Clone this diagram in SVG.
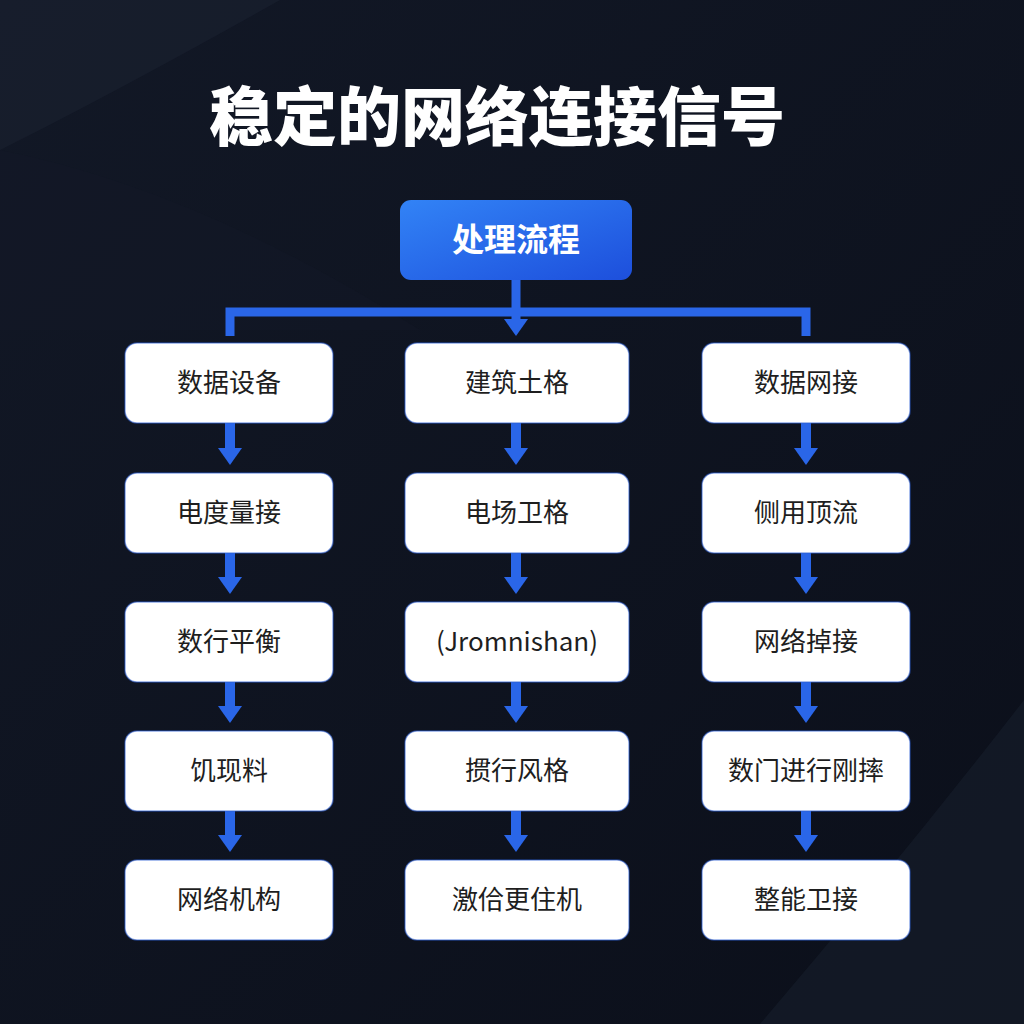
<svg xmlns="http://www.w3.org/2000/svg" width="1024" height="1024" viewBox="0 0 1024 1024">
<defs>
<linearGradient id="bg" x1="0" y1="0" x2="1" y2="1">
<stop offset="0" stop-color="#121826"/>
<stop offset="1" stop-color="#0b0f1a"/>
</linearGradient>
<linearGradient id="top" x1="0" y1="0" x2="1" y2="1">
<stop offset="0" stop-color="#3283f6"/>
<stop offset="1" stop-color="#1d4fdc"/>
</linearGradient>
<path id="ah" d="M-12,0 L12,0 L0,17 Z" fill="#2a66e8"/>
<style>
.box{fill:#ffffff;stroke:#2d5fd4;stroke-opacity:0.55;stroke-width:1.5}
.lbl{font-family:"Noto Sans CJK SC","Noto Sans",sans-serif;font-size:26px;fill:#1e1e1e;text-anchor:middle}
.conn{stroke:#2a66e8;stroke-width:9;fill:none}
.arr{stroke:#2a66e8;stroke-width:10;fill:none}
</style>
</defs>
<rect width="1024" height="1024" fill="url(#bg)"/>
<path d="M0,0 L280,0 Q120,90 0,150 Z" fill="#1a2131" opacity="0.6"/>
<path d="M0,150 Q200,190 420,330 L0,330 Z" fill="#141a28" opacity="0.4"/>
<path d="M760,1024 Q900,860 1024,700 L1024,1024 Z" fill="#161c2a" opacity="0.7"/>
<text x="497" y="140" font-family="'Noto Sans CJK SC','Noto Sans',sans-serif" font-size="64" font-weight="900" fill="#ffffff" text-anchor="middle">稳定的网络连接信号</text>

<g id="connectors">
<path class="conn" d="M516,280 V321 M225.5,312 H810.5 M230,307.5 V336 M806,307.5 V336"/>
<use href="#ah" x="516" y="319"/>
<g class="arr">
<path d="M230,423 V449 M230,553 V578 M230,682 V707 M230,811 V836"/>
<path d="M516,423 V449 M516,553 V578 M516,682 V707 M516,811 V836"/>
<path d="M806,423 V449 M806,553 V578 M806,682 V707 M806,811 V836"/>
</g>
<use href="#ah" x="230" y="448"/><use href="#ah" x="230" y="577"/><use href="#ah" x="230" y="706"/><use href="#ah" x="230" y="835"/>
<use href="#ah" x="516" y="448"/><use href="#ah" x="516" y="577"/><use href="#ah" x="516" y="706"/><use href="#ah" x="516" y="835"/>
<use href="#ah" x="806" y="448"/><use href="#ah" x="806" y="577"/><use href="#ah" x="806" y="706"/><use href="#ah" x="806" y="835"/>
</g>

<g id="node-top">
<rect x="400" y="200" width="232" height="80" rx="11" fill="url(#top)"/>
<text x="516" y="251" font-family="'Noto Sans CJK SC','Noto Sans',sans-serif" font-size="32" font-weight="700" fill="#ffffff" text-anchor="middle">处理流程</text>
</g>

<g id="node-a1"><rect class="box" x="125" y="343" width="208" height="80" rx="12"/><text class="lbl" x="229" y="392">数据设备</text></g>
<g id="node-a2"><rect class="box" x="125" y="473" width="208" height="80" rx="12"/><text class="lbl" x="229" y="522">电度量接</text></g>
<g id="node-a3"><rect class="box" x="125" y="602" width="208" height="80" rx="12"/><text class="lbl" x="229" y="651">数行平衡</text></g>
<g id="node-a4"><rect class="box" x="125" y="731" width="208" height="80" rx="12"/><text class="lbl" x="229" y="780">饥现料</text></g>
<g id="node-a5"><rect class="box" x="125" y="860" width="208" height="80" rx="12"/><text class="lbl" x="229" y="909">网络机构</text></g>

<g id="node-b1"><rect class="box" x="405" y="343" width="224" height="80" rx="12"/><text class="lbl" x="517" y="392">建筑土格</text></g>
<g id="node-b2"><rect class="box" x="405" y="473" width="224" height="80" rx="12"/><text class="lbl" x="517" y="522">电场卫格</text></g>
<g id="node-b3"><rect class="box" x="405" y="602" width="224" height="80" rx="12"/><text class="lbl" x="517" y="651">(Jromnishan)</text></g>
<g id="node-b4"><rect class="box" x="405" y="731" width="224" height="80" rx="12"/><text class="lbl" x="517" y="780">掼行风格</text></g>
<g id="node-b5"><rect class="box" x="405" y="860" width="224" height="80" rx="12"/><text class="lbl" x="517" y="909">激佮更住机</text></g>

<g id="node-c1"><rect class="box" x="702" y="343" width="208" height="80" rx="12"/><text class="lbl" x="806" y="392">数据网接</text></g>
<g id="node-c2"><rect class="box" x="702" y="473" width="208" height="80" rx="12"/><text class="lbl" x="806" y="522">侧用顶流</text></g>
<g id="node-c3"><rect class="box" x="702" y="602" width="208" height="80" rx="12"/><text class="lbl" x="806" y="651">网络掉接</text></g>
<g id="node-c4"><rect class="box" x="702" y="731" width="208" height="80" rx="12"/><text class="lbl" x="806" y="780">数门进行刚摔</text></g>
<g id="node-c5"><rect class="box" x="702" y="860" width="208" height="80" rx="12"/><text class="lbl" x="806" y="909">整能卫接</text></g>
</svg>
